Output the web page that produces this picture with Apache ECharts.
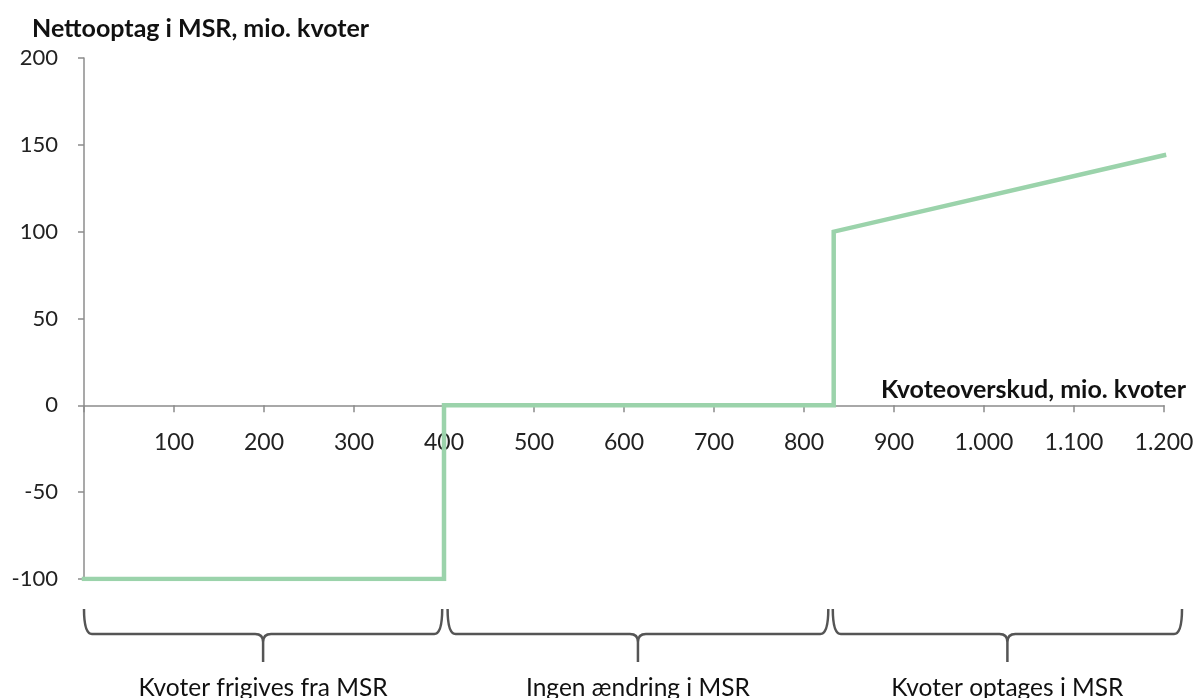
<!DOCTYPE html>
<html>
<head>
<meta charset="utf-8">
<script src="https://cdn.jsdelivr.net/npm/echarts@6/dist/echarts.min.js"></script>
<style>html,body{margin:0;padding:0;background:#fff}#c{width:1200px;height:698px}</style>
</head>
<body>
<div id="c"></div>
<script>
// Data
const lineX = [0, 400, 400, 833, 833, 1200];
const lineY = [-100, -100, 0, 0, 100, 144];
const braceStart = [0, 404, 832];
const braceEnd = [398, 827, 1220];
const braceLabels = ['Kvoter frigives fra MSR', 'Ingen ændring i MSR', 'Kvoter optages i MSR'];
const yTitle = 'Nettooptag i MSR, mio. kvoter';
const xTitle = 'Kvoteoverskud, mio. kvoter';

const FONT = 'Lato, "Liberation Sans", sans-serif';
const chart = echarts.init(document.getElementById('c'));

function fmt(v) {
  if (v === 0) return '';
  return String(v).replace(/\B(?=(\d{3})+(?!\d))/g, '.');
}

const lineData = lineX.map((x, i) => [x, lineY[i]]);
const braceData = braceStart.map((s, i) => [s, braceEnd[i], i]);

const GRID_TOP = 58, GRID_BOTTOM = 119, H = 698;
const Y_MIN = -100, Y_MAX = 200;
const zeroOffset = -(0 - Y_MIN) / (Y_MAX - Y_MIN) * (H - GRID_TOP - GRID_BOTTOM);

chart.setOption({
  animation: false,
  title: {
    text: yTitle, left: 27, top: 11,
    textStyle: { fontFamily: FONT, fontWeight: 'bold', fontSize: 25, color: '#111' }
  },
  grid: { left: 84, right: 36, top: GRID_TOP, bottom: GRID_BOTTOM, containLabel: false },
  xAxis: {
    type: 'value', min: 0, max: 1200, interval: 100,
    offset: zeroOffset,
    name: xTitle, nameLocation: 'end', nameGap: 22,
    nameTextStyle: { fontFamily: FONT, fontWeight: 'bold', fontSize: 25, color: '#111', align: 'right', verticalAlign: 'bottom', padding: [0, 0, 3, 0] },
    axisLine: { onZero: false, lineStyle: { color: '#8c8c8c', width: 1.5 } },
    axisTick: { show: true, length: 7, lineStyle: { color: '#8c8c8c', width: 1.5 } },
    axisLabel: { formatter: fmt, margin: 26, fontFamily: FONT, fontSize: 23, color: '#222' },
    splitLine: { show: false }
  },
  yAxis: {
    type: 'value', min: Y_MIN, max: Y_MAX, interval: 50,
    axisLine: { show: true, lineStyle: { color: '#8c8c8c', width: 1.5 } },
    axisTick: { show: true, length: 6, lineStyle: { color: '#8c8c8c', width: 1.5 } },
    axisLabel: { margin: 26, fontFamily: FONT, fontSize: 22, color: '#222' },
    splitLine: { show: false }
  },
  series: [
    {
      type: 'line', data: lineData, symbol: 'none',
      lineStyle: { color: '#9bd3ab', width: 4.5, join: 'miter', cap: 'square' },
      z: 5
    },
    {
      type: 'custom', data: braceData, clip: false,
      encode: { x: [0, 1] },
      renderItem: function (params, api) {
        const p0 = api.coord([api.value(0), Y_MIN]);
        const p1 = api.coord([api.value(1), Y_MIN]);
        const xs = p0[0], xe = p1[0];
        const yTop = p0[1] + 30, yMid = yTop + 25, yTip = yTop + 53;
        const tip = (xs + xe) / 2;
        const r = 8;
        const d = 'M' + xs + ',' + yTop +
          ' Q' + xs + ',' + yMid + ' ' + (xs + r) + ',' + yMid +
          ' L' + (tip - r) + ',' + yMid +
          ' Q' + tip + ',' + yMid + ' ' + tip + ',' + (yMid + r) +
          ' L' + tip + ',' + yTip +
          ' M' + tip + ',' + (yMid + r) +
          ' Q' + tip + ',' + yMid + ' ' + (tip + r) + ',' + yMid +
          ' L' + (xe - r) + ',' + yMid +
          ' Q' + xe + ',' + yMid + ' ' + xe + ',' + yTop;
        return {
          type: 'group',
          children: [
            { type: 'path', shape: { pathData: d }, style: { stroke: '#555', lineWidth: 2.5, fill: null } },
            { type: 'text', style: { text: braceLabels[api.value(2)], x: tip, y: yTip + 14, align: 'center', verticalAlign: 'top', fill: '#111', fontFamily: FONT, fontSize: 24.5 } }
          ]
        };
      }
    }
  ]
});
</script>
</body>
</html>
